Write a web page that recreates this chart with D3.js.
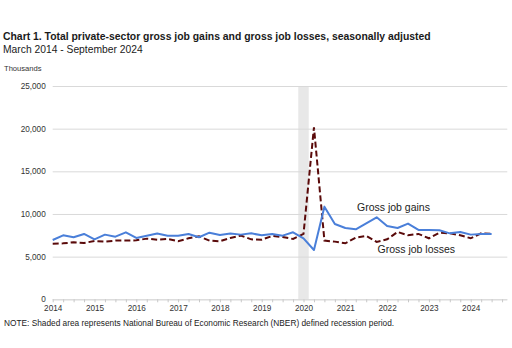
<!DOCTYPE html>
<html>
<head>
<meta charset="utf-8">
<script src="https://cdn.jsdelivr.net/npm/d3@7"></script>
<style>
  body { margin: 0; background: #fff; }
  svg { display: block; font-family: "Liberation Sans", Arial, sans-serif; }
  .tick-label { font-size: 8.2px; fill: #333; }
</style>
</head>
<body>
<svg id="chart" width="512" height="348"></svg>
<script>
(function() {
    // quarterly observations, March 2014 through September 2024
    const quarters = [
        "2014Q1","2014Q2","2014Q3","2014Q4","2015Q1","2015Q2","2015Q3","2015Q4",
        "2016Q1","2016Q2","2016Q3","2016Q4","2017Q1","2017Q2","2017Q3","2017Q4",
        "2018Q1","2018Q2","2018Q3","2018Q4","2019Q1","2019Q2","2019Q3","2019Q4",
        "2020Q1","2020Q2","2020Q3","2020Q4","2021Q1","2021Q2","2021Q3","2021Q4",
        "2022Q1","2022Q2","2022Q3","2022Q4","2023Q1","2023Q2","2023Q3","2023Q4",
        "2024Q1","2024Q2","2024Q3"
    ];
    // gross job gains, thousands
    const gains = [
        6950, 7500, 7270, 7660, 7030, 7580, 7340, 7850,
        7190, 7460, 7700, 7460, 7460, 7660, 7270, 7810,
        7540, 7700, 7580, 7730, 7500, 7660, 7460, 7850,
        7150, 5780, 10860, 8830, 8360, 8200, 8910, 9610,
        8590, 8360, 8870, 8130, 8130, 8090, 7730, 7890,
        7580, 7660, 7660
    ];
    // gross job losses, thousands
    const losses = [
        6520, 6560, 6680, 6600, 6840, 6760, 6880, 6880,
        6910, 7110, 6990, 7070, 6800, 7150, 7380, 6880,
        6800, 7190, 7460, 7030, 6990, 7420, 7300, 7070,
        7660, 20160, 6880, 6760, 6560, 7230, 7420, 6720,
        7030, 7890, 7500, 7660, 7150, 7810, 7730, 7500,
        7150, 7730, 7660
    ];
    const yearTicks = [2014, 2015, 2016, 2017, 2018, 2019, 2020, 2021, 2022, 2023, 2024];
    const yTicks = [0, 5000, 10000, 15000, 20000, 25000];
    // NBER recession, Feb 2020 - Apr 2020
    const recession = [2019.875, 2020.125];

    // "2016Q3" -> 2016.5
    const toYear = q => +q.slice(0, 4) + (+q.slice(5) - 1) / 4;

    const svg = d3.select("#chart");
    const left = 52.7, right = 507.3, top = 86, bottom = 299.3;

    const x = d3.scaleLinear().domain([2014, 2024.875]).range([left, right]);
    const y = d3.scaleLinear().domain([0, 25000]).range([bottom, top]);

    // titles
    svg.append("text").attr("x", 3).attr("y", 40)
        .style("font-size", "10.4px").style("font-weight", "bold").attr("fill", "#1a1a1a")
        .text("Chart 1. Total private-sector gross job gains and gross job losses, seasonally adjusted");
    svg.append("text").attr("x", 3).attr("y", 53)
        .style("font-size", "10.3px").attr("fill", "#1a1a1a")
        .text("March 2014 - September 2024");
    svg.append("text").attr("x", 4).attr("y", 71)
        .style("font-size", "7.6px").attr("fill", "#333")
        .text("Thousands");

    // recession shading
    svg.append("rect")
        .attr("x", x(recession[0])).attr("y", top)
        .attr("width", x(recession[1]) - x(recession[0]))
        .attr("height", bottom - top)
        .attr("fill", "#e8e8e8");

    // y grid + labels
    const yAxis = svg.append("g")
        .attr("transform", `translate(${left},0)`)
        .call(d3.axisLeft(y).tickValues(yTicks).tickFormat(d3.format(",")).tickSize(-(right - left)).tickPadding(7));
    yAxis.select(".domain").remove();
    yAxis.selectAll(".tick line").attr("stroke", "#d9d9d9");
    yAxis.selectAll(".tick text").attr("class", "tick-label").attr("font-family", null).attr("font-size", null);

    // x axis: quarterly minor ticks, yearly labels
    const quarterTicks = d3.range(0, 44).map(i => 2014 + i / 4);
    const xAxis = svg.append("g")
        .attr("transform", `translate(0,${bottom})`)
        .call(d3.axisBottom(x).tickValues(quarterTicks).tickSize(3).tickPadding(3)
            .tickFormat(d => yearTicks.includes(d) ? d : ""));
    xAxis.select(".domain").attr("stroke", "#d9d9d9").attr("d", `M${left},0.5H${right}`);
    xAxis.selectAll(".tick line").attr("stroke", "#c8c8c8");
    xAxis.selectAll(".tick text").attr("class", "tick-label").attr("font-family", null).attr("font-size", null);

    const line = d3.line()
        .x((d, i) => x(toYear(quarters[i])))
        .y(d => y(d));

    svg.append("path").datum(losses)
        .attr("d", line)
        .attr("fill", "none")
        .attr("stroke", "#5a0a0a")
        .attr("stroke-width", 2)
        .attr("stroke-dasharray", "6,3");

    svg.append("path").datum(gains)
        .attr("d", line)
        .attr("fill", "none")
        .attr("stroke", "#4a7fd9")
        .attr("stroke-width", 2)
        .attr("stroke-linejoin", "round");

    // series labels
    svg.append("text").attr("x", 357).attr("y", 210.5)
        .style("font-size", "10.5px").attr("fill", "#222")
        .text("Gross job gains");
    svg.append("text").attr("x", 377.5).attr("y", 253)
        .style("font-size", "10.5px").attr("fill", "#222")
        .text("Gross job losses");

    // note
    svg.append("text").attr("x", 4).attr("y", 326)
        .style("font-size", "8.3px").attr("fill", "#222")
        .text("NOTE: Shaded area represents National Bureau of Economic Research (NBER) defined recession period.");
})();
</script>
</body>
</html>
